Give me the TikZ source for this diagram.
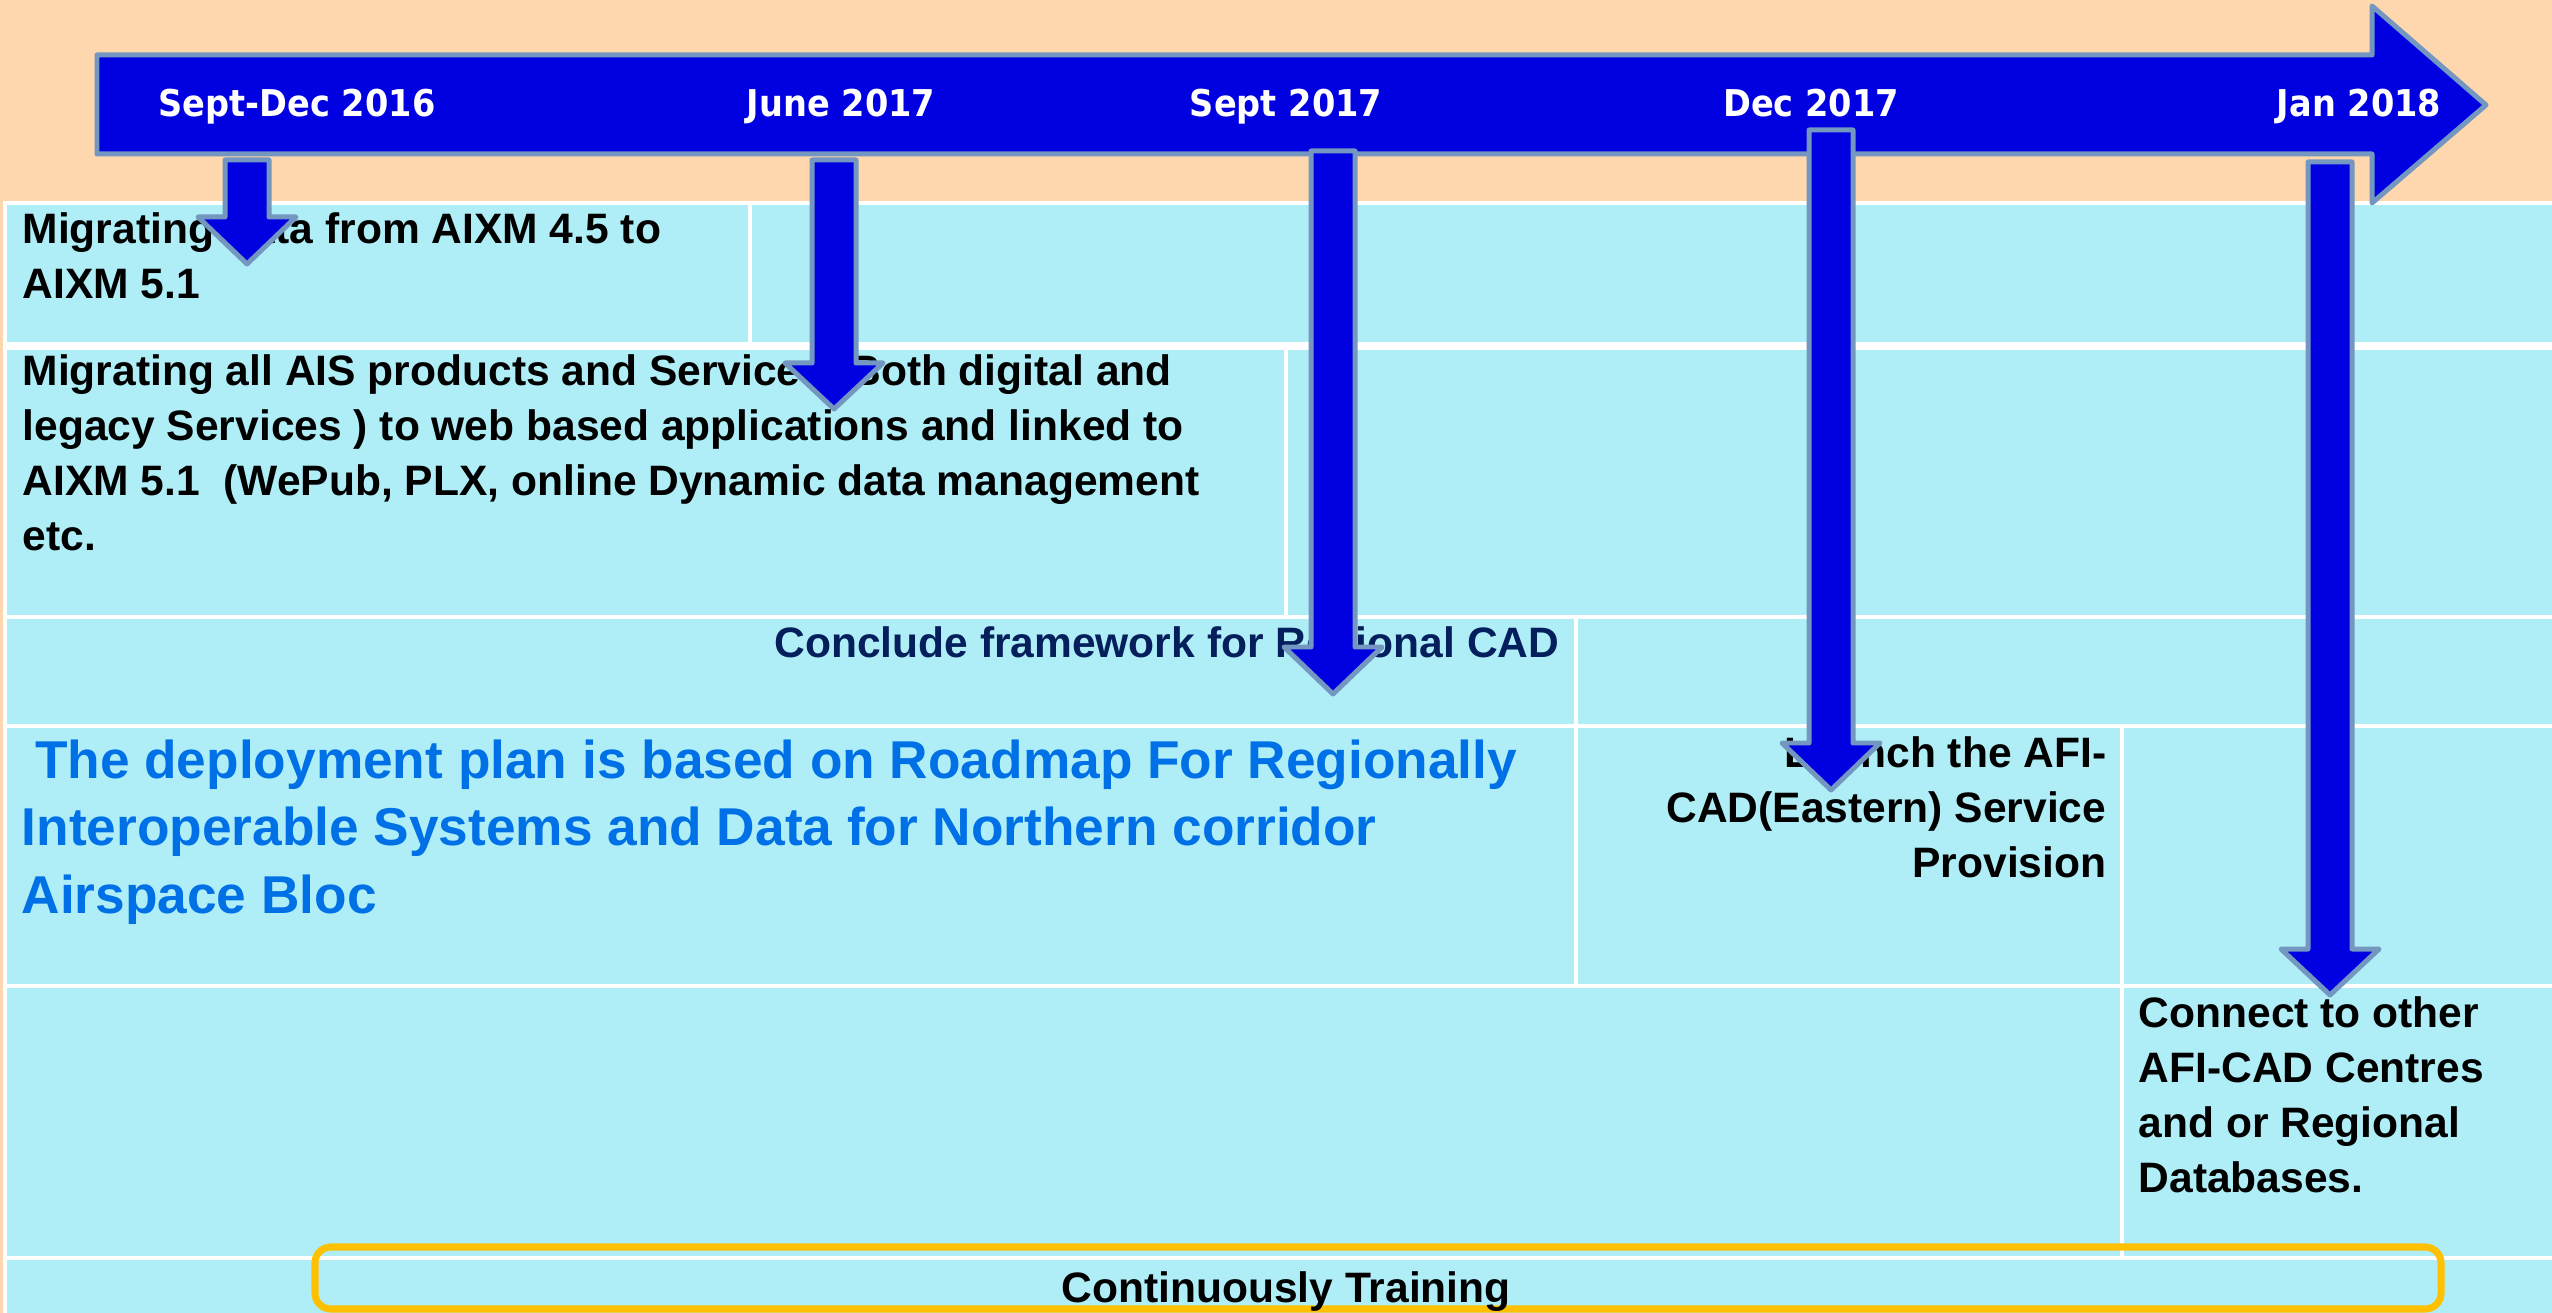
\documentclass[tikz,border=0pt]{standalone}
\usepackage{fontspec}
\setmainfont{Liberation Sans}
\newfontfamily\tlfont[FakeStretch=0.91]{DejaVu Sans}
\definecolor{peach}{RGB}{254,215,174}
\definecolor{cellcyan}{RGB}{175,238,247}
\definecolor{arrowfill}{RGB}{0,0,225}
\definecolor{arrowedge}{RGB}{115,151,192}
\definecolor{plantext}{RGB}{0,112,230}
\definecolor{navytext}{RGB}{5,30,92}
\definecolor{trainbox}{RGB}{255,192,0}
\tikzset{
  blkarrow/.style={fill=arrowfill, draw=arrowedge, line width=1.42pt, line join=round},
  gridline/.style={draw=white, line width=0.9pt},
  datelabel/.style={anchor=base, inner sep=0pt, text=white, font=\tlfont\bfseries\fontsize{10.5}{12}\selectfont},
  celltext/.style={inner sep=0pt, align=left, font=\bfseries\fontsize{12.1}{15.65}\selectfont},
  plantxt/.style={inner sep=0pt, align=left, text=plantext, font=\bfseries\fontsize{15.14}{19.2}\selectfont},
}
\newcommand\blockdown[4]{%
  \draw[blkarrow] (#1-22,#2) -- (#1+22,#2) -- (#1+22,#3) -- (#1+49,#3) -- (#1,#4) -- (#1-49,#3) -- (#1-22,#3) -- cycle;}
\begin{document}
\begin{tikzpicture}[x=0.01cm, y=-0.01cm]
\useasboundingbox (0,0) rectangle (2552,1313);
% background
\fill[peach] (0,0) rectangle (2552,1313);
% table
\fill[cellcyan] (5,203) rectangle (2552,1313);
\draw[gridline] (5,1313) -- (5,203) -- (2552,203);
\fill[white] (5,342) rectangle (2552,350);
\draw[gridline] (5,617) -- (2552,617);
\draw[gridline] (5,726) -- (2552,726);
\draw[gridline] (5,986) -- (2552,986);
\draw[gridline] (5,1258) -- (2552,1258);
\draw[gridline] (750,203) -- (750,342);
\draw[gridline] (1286,350) -- (1286,617);
\draw[gridline] (1576,617) -- (1576,986);
\draw[gridline] (2122,726) -- (2122,1258);

% cell texts
\node[celltext, anchor=north west] (t1) at (22,212) {Migrating data from AIXM 4.5 to\\AIXM 5.1};
\node[celltext, anchor=north west] (t2) at (22,354) {Migrating all AIS products and Services (Both digital and\\legacy Services ) to web based applications and linked to\\AIXM 5.1\ \ (WePub, PLX, online Dynamic data management\\etc.};
\node[celltext, anchor=base east, text=navytext] (t3) at (1560,657) {Conclude framework for Regional CAD};
\node[plantxt, anchor=north west] (t4) at (21,739) {\hspace*{0.25em}The deployment plan is based on Roadmap For Regionally\\Interoperable Systems and Data for Northern corridor\\Airspace Bloc};
\node[celltext, anchor=north east, align=right] (t5) at (2107,736) {Launch the AFI-\\CAD(Eastern) Service\\Provision};
\node[celltext, anchor=north west] (t6) at (2138,996) {Connect to other\\AFI-CAD Centres\\and or Regional\\Databases.};

% training box
\draw[trainbox, line width=2pt, rounded corners=4.5pt] (315,1247) rectangle (2441,1309);
\node[celltext, anchor=base] (t7) at (1286,1302) {Continuously Training};

% main timeline arrow
\draw[blkarrow] (97,55) -- (2372,55) -- (2372,6) -- (2486,105) -- (2372,203) -- (2372,154) -- (97,154) -- cycle;
\node[datelabel] (d1) at (297,117) {Sept-Dec 2016};
\node[datelabel] (d2) at (841,117) {June 2017};
\node[datelabel] (d3) at (1286,117) {Sept 2017};
\node[datelabel] (d4) at (1811,117) {Dec 2017};
\node[datelabel] (d5) at (2359,117) {Jan 2018};

% milestone arrows
\blockdown{247}{160}{217}{264}
\blockdown{834}{160}{363}{409}
\blockdown{1333}{151}{647}{694}
\blockdown{1831}{130}{743}{790}
\blockdown{2330}{162}{949}{995}
\end{tikzpicture}
\end{document}
